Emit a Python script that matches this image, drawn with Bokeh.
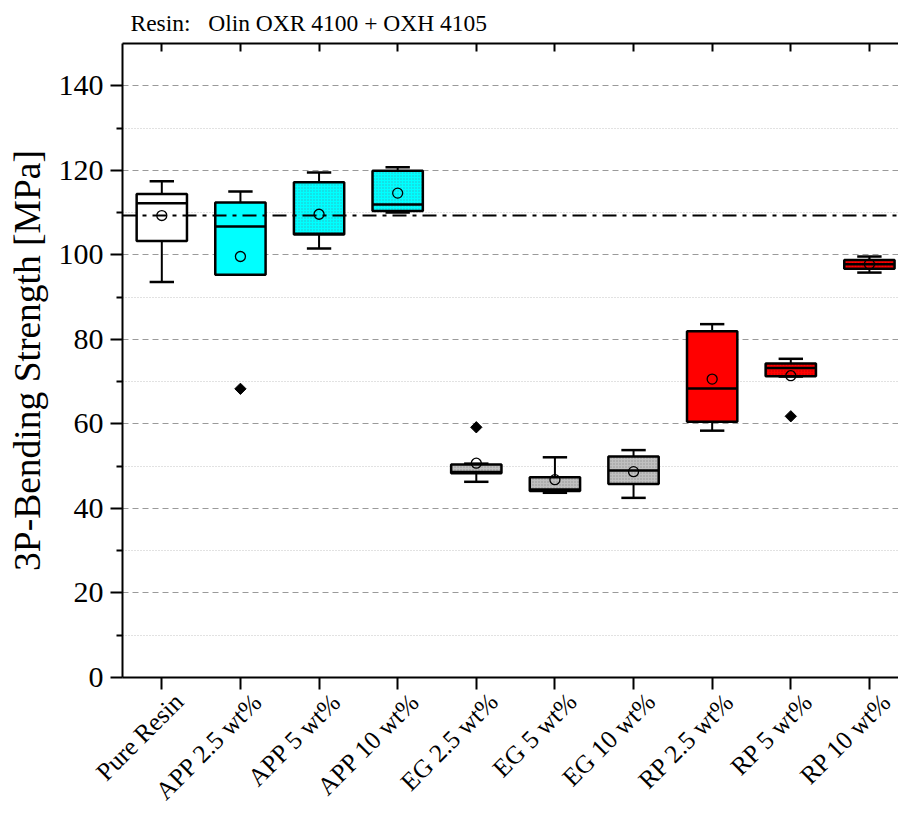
import numpy as np
from bokeh.plotting import figure
from bokeh.models import ColumnDataSource, FixedTicker, LinearAxis, Range1d, Span
from bokeh.embed import file_html
from bokeh.resources import INLINE

# --- data -------------------------------------------------------------
groups = ["Pure Resin", "APP 2.5 wt%", "APP 5 wt%", "APP 10 wt%",
          "EG 2.5 wt%", "EG 5 wt%", "EG 10 wt%",
          "RP 2.5 wt%", "RP 5 wt%", "RP 10 wt%"]
whisker_low = [93.6, 95.3, 101.5, 110.0, 46.3, 43.7, 42.5, 58.4, 71.2, 95.8]
q1 = [103.3, 95.3, 104.8, 110.4, 48.3, 44.1, 45.8, 60.5, 71.3, 96.7]
median = [112.2, 106.7, 105.0, 111.9, 48.6, 44.5, 49.0, 68.4, 73.2, 97.8]
q3 = [114.4, 112.4, 117.2, 119.9, 50.4, 47.4, 52.3, 81.9, 74.3, 98.8]
whisker_high = [117.4, 115.0, 119.5, 120.7, 50.6, 52.1, 53.8, 83.6, 75.4, 99.6]
mean = [109.3, 99.6, 109.6, 114.6, 50.7, 46.8, 48.7, 70.6, 71.4, 97.8]
outlier_group = ["APP 2.5 wt%", "EG 2.5 wt%", "RP 5 wt%"]
outlier_value = [68.3, 59.2, 61.8]

fill_colors = ["#ffffff", "#00ffff", "#00ffff", "#00ffff",
               "#c0c0c0", "#c0c0c0", "#c0c0c0",
               "#ff0000", "#ff0000", "#ff0000"]
hatch_colors = ["#ffffff", "#00ffff", "#3aa6b4", "#3aa6b4",
                "#8a8a8a", "#8a8a8a", "#8a8a8a",
                "#ff0000", "#b00000", "#b00000"]
hatches = [" ", " ", ".", ".", ".", ".", ".", " ", ".", "."]

FONT = "Liberation Serif"
BOX_W = 0.64
CAP_W = 0.31
LABEL_SHIFT = 0.22   # rotated category names sit slightly right of their tick

xpos = np.arange(1, len(groups) + 1)

src = ColumnDataSource(dict(
    x=xpos,
    left=xpos - BOX_W / 2, right=xpos + BOX_W / 2,
    cap_l=xpos - CAP_W / 2, cap_r=xpos + CAP_W / 2,
    lo=whisker_low, q1=q1, med=median, q3=q3, hi=whisker_high, mean=mean,
    fill=fill_colors, hcol=hatch_colors, hatch=hatches,
))
out_src = ColumnDataSource(dict(
    x=[groups.index(g) + 1 for g in outlier_group], y=outlier_value,
))

# --- figure -----------------------------------------------------------
p = figure(width=898, height=821,
           x_range=Range1d(0.5, 10.37), y_range=Range1d(0, 150),
           output_backend="svg", toolbar_location=None,
           min_border_left=122, min_border_right=0,
           min_border_top=43, min_border_bottom=144)
p.outline_line_color = None
p.background_fill_color = "white"
p.border_fill_color = "white"

p.title.text = "Resin:\u00a0\u00a0\u00a0Olin OXR 4100 + OXH 4105"
p.title.text_font = FONT
p.title.text_font_size = "23.5px"
p.title.text_font_style = "normal"
p.title.text_color = "black"
p.title.offset = 8
p.title.standoff = 15

# grid
y_major = list(range(0, 141, 20))
y_minor = list(range(10, 141, 20))
p.xgrid.visible = False
p.ygrid.ticker = FixedTicker(ticks=y_major, minor_ticks=y_minor)
p.ygrid.grid_line_color = "#9a9a9a"
p.ygrid.grid_line_dash = "6 4"
p.ygrid.grid_line_width = 1
p.ygrid.minor_grid_line_color = "#c4c4c4"
p.ygrid.minor_grid_line_dash = "1 2"

# y axis
ya = p.yaxis[0]
ya.ticker = FixedTicker(ticks=y_major, minor_ticks=y_minor)
ya.axis_label = "3P-Bending Strength [MPa]"
ya.axis_label_text_font = FONT
ya.axis_label_text_font_size = "37.5px"
ya.axis_label_text_font_style = "normal"
ya.axis_label_text_color = "black"
ya.axis_label_standoff = 8
ya.major_label_text_font = FONT
ya.major_label_text_font_size = "30px"
ya.major_label_text_color = "black"
ya.major_label_standoff = 7
ya.axis_line_width = 2
ya.major_tick_line_width = 2
ya.minor_tick_line_width = 2
ya.major_tick_out = 12
ya.major_tick_in = 0
ya.minor_tick_out = 6
ya.minor_tick_in = 0

# x axis: line and ticks only
xa = p.xaxis[0]
xa.ticker = FixedTicker(ticks=list(xpos))
xa.major_label_text_color = None
xa.major_label_text_font_size = "0px"
xa.major_label_standoff = 0
xa.axis_label_standoff = 0
xa.axis_line_width = 2
xa.major_tick_line_width = 2
xa.major_tick_out = 12
xa.major_tick_in = 0
xa.minor_tick_line_color = None

# second bottom axis carrying the rotated category names
label_pos = [float(x) + LABEL_SHIFT for x in xpos]
names = LinearAxis(ticker=FixedTicker(ticks=label_pos),
                   major_label_overrides=dict(zip(label_pos, groups)),
                   major_label_orientation=np.pi / 4,
                   major_label_text_font=FONT,
                   major_label_text_font_size="25.5px",
                   major_label_text_line_height=0.8,
                   major_label_text_color="black",
                   major_label_standoff=8,
                   axis_label_standoff=0,
                   major_tick_out=0, major_tick_in=0,
                   axis_line_color=None, major_tick_line_color=None,
                   minor_tick_line_color=None)
p.add_layout(names, "below")

# top border with inward ticks
top = LinearAxis(ticker=FixedTicker(ticks=list(xpos)),
                 major_label_text_color=None,
                 major_label_text_font_size="0px",
                 major_label_standoff=0,
                 axis_label_standoff=0,
                 axis_line_width=2, major_tick_line_width=2,
                 major_tick_in=8, major_tick_out=0,
                 minor_tick_line_color=None)
p.add_layout(top, "above")

# reference line at the pure-resin mean
p.add_layout(Span(location=mean[0], dimension="width", line_color="black",
                  line_width=2, line_dash="14 6 4 6"))

# whiskers and caps
p.segment(x0="x", y0="lo", x1="x", y1="hi", source=src,
          line_color="black", line_width=2)
p.segment(x0="cap_l", y0="hi", x1="cap_r", y1="hi", source=src,
          line_color="black", line_width=2.5)
p.segment(x0="cap_l", y0="lo", x1="cap_r", y1="lo", source=src,
          line_color="black", line_width=2.5)

# boxes
p.quad(left="left", right="right", bottom="q1", top="q3", source=src,
       fill_color="fill", line_color="black", line_width=2.5,
       hatch_pattern="hatch", hatch_color="hcol", hatch_scale=3,
       hatch_alpha=0.8)

# medians
p.segment(x0="left", y0="med", x1="right", y1="med", source=src,
          line_color="black", line_width=2.5)

# means
p.scatter(x="x", y="mean", source=src, marker="circle", size=10,
          fill_color=None, line_color="black", line_width=1.3)

# outliers
p.scatter(x="x", y="y", source=out_src, marker="square", angle=np.pi / 4,
          size=8, fill_color="black", line_color="black")

open("out.html", "w").write(file_html(p, INLINE))
